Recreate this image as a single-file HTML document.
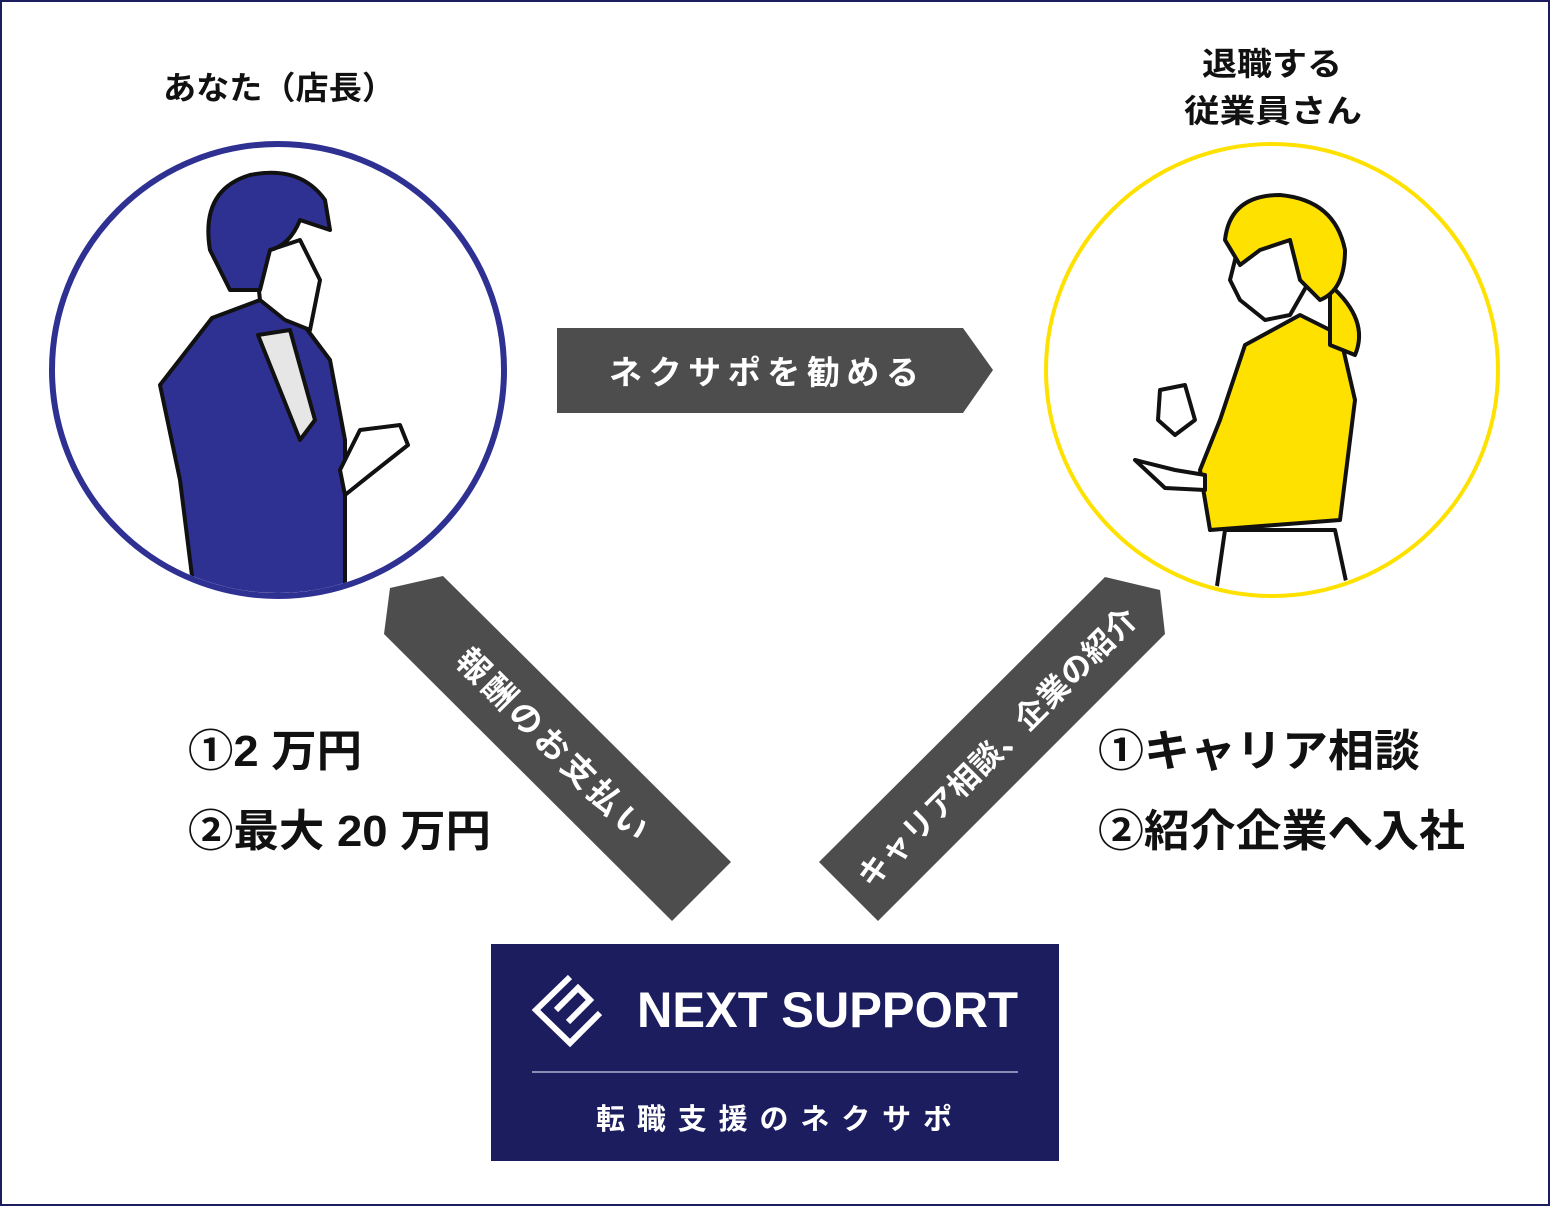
<!DOCTYPE html>
<html><head><meta charset="utf-8"><style>
html,body{margin:0;padding:0;background:#fff}
svg{display:block}
text{font-family:"Liberation Sans","Noto Sans CJK JP",sans-serif}
</style></head><body>
<svg width="1550" height="1206" viewBox="0 0 1550 1206" xmlns="http://www.w3.org/2000/svg">
<rect x="1" y="1" width="1548" height="1204" fill="#fff" stroke="#1b1d5e" stroke-width="2"/>
<!-- labels -->
<text x="163" y="99" font-size="32" font-weight="bold" fill="#111" textLength="232" lengthAdjust="spacingAndGlyphs">あなた（店長）</text>
<text x="1202" y="75" font-size="32" font-weight="bold" fill="#111" textLength="140" lengthAdjust="spacingAndGlyphs">退職する</text>
<text x="1184" y="122" font-size="32" font-weight="bold" fill="#111" textLength="178" lengthAdjust="spacingAndGlyphs">従業員さん</text>
<!-- circles -->
<circle cx="278" cy="370" r="226" fill="#fff" stroke="#2e3192" stroke-width="6"/>
<circle cx="1272" cy="370" r="226" fill="#fff" stroke="#ffe100" stroke-width="4"/>
<!-- man -->
<clipPath id="cl"><circle cx="278" cy="370" r="223"/></clipPath>
<g clip-path="url(#cl)" stroke="#111" stroke-width="4" stroke-linejoin="round">
<path d="M160 385 L212 318 L260 300 L300 320 L330 360 L345 440 L345 600 L195 600 L180 480 Z" fill="#2e3192"/>
<path d="M258 335 L290 330 L315 420 L300 440 Z" fill="#e6e6e6"/>
<path d="M255 255 L300 240 L320 280 L310 330 L285 320 L260 300 Z" fill="#fff"/>
<path d="M210 250 Q200 190 250 175 Q300 165 325 200 L330 230 L300 220 Q290 245 270 250 L260 290 L230 290 Z" fill="#2e3192"/>
<path d="M340 470 L360 430 L400 425 L408 445 L370 475 L345 495 Z" fill="#fff"/>
</g>
<!-- woman -->
<clipPath id="cr"><circle cx="1272" cy="370" r="223"/></clipPath>
<g clip-path="url(#cr)" stroke="#111" stroke-width="4" stroke-linejoin="round">
<path d="M1215 600 L1225 530 L1335 530 L1350 600 Z" fill="#fff"/>
<path d="M1245 345 L1300 315 L1340 335 L1355 400 L1340 520 L1210 530 L1200 470 L1220 420 Z" fill="#ffe100"/>
<path d="M1330 285 Q1370 320 1355 355 L1330 345 Z" fill="#ffe100"/>
<path d="M1240 240 L1290 230 L1310 280 L1290 315 L1265 320 L1240 300 L1230 280 Z" fill="#fff"/>
<path d="M1225 240 Q1230 195 1280 195 Q1335 200 1345 250 Q1345 290 1320 300 L1300 280 L1290 240 L1260 250 L1240 265 Z" fill="#ffe100"/>
<path d="M1160 390 L1185 385 L1195 420 L1175 435 L1158 420 Z" fill="#fff"/>
<path d="M1135 460 L1175 470 L1205 475 L1205 490 L1165 488 Z" fill="#fff"/>
</g>
<!-- top arrow -->
<polygon points="557,328 963,328 993,370 963,413 557,413" fill="#4d4d4d"/>
<text x="609" y="384" font-size="33" font-weight="bold" fill="#fff" textLength="310" lengthAdjust="spacing">ネクサポを勧める</text>
<!-- left arrow -->
<polygon points="384,634 390,588 443,576 731,862 672,921" fill="#4d4d4d"/>
<text transform="translate(552,745) rotate(45)" font-size="33" font-weight="bold" fill="#fff" x="-128" dy="11" textLength="256" lengthAdjust="spacing">報酬のお支払い</text>
<!-- right arrow -->
<polygon points="1105,577 1160,590 1165,634 878,921 819,862" fill="#4d4d4d"/>
<text transform="translate(998,748) rotate(-45)" font-size="31" font-weight="bold" fill="#fff" x="-190" dy="10" textLength="380" lengthAdjust="spacing">キャリア相談、企業の紹介</text>
<!-- lists -->
<text x="188" y="766" font-size="44" font-weight="bold" fill="#111" textLength="174" lengthAdjust="spacingAndGlyphs">①2 万円</text>
<text x="188" y="846" font-size="44" font-weight="bold" fill="#111" textLength="303" lengthAdjust="spacingAndGlyphs">②最大 20 万円</text>
<text x="1098" y="766" font-size="44" font-weight="bold" fill="#111" textLength="322" lengthAdjust="spacingAndGlyphs">①キャリア相談</text>
<text x="1098" y="846" font-size="44" font-weight="bold" fill="#111" textLength="367" lengthAdjust="spacingAndGlyphs">②紹介企業へ入社</text>
<!-- box -->
<rect x="491" y="944" width="568" height="217" fill="#1b1d5e"/>
<g fill="none" stroke="#fff" stroke-width="6">
<path d="M570 977 L536 1010 L570 1043 L600 1013"/>
<path d="M556 1010 L578 988 L590 1000 L568 1022"/>
</g>
<text x="637" y="1027" font-size="50" font-weight="bold" fill="#fff" textLength="381" lengthAdjust="spacingAndGlyphs">NEXT SUPPORT</text>
<line x1="532" y1="1072" x2="1018" y2="1072" stroke="#8a8cb5" stroke-width="2"/>
<text x="596" y="1129" font-size="29" font-weight="bold" fill="#fff" textLength="356" lengthAdjust="spacing">転職支援のネクサポ</text>
</svg>
</body></html>
